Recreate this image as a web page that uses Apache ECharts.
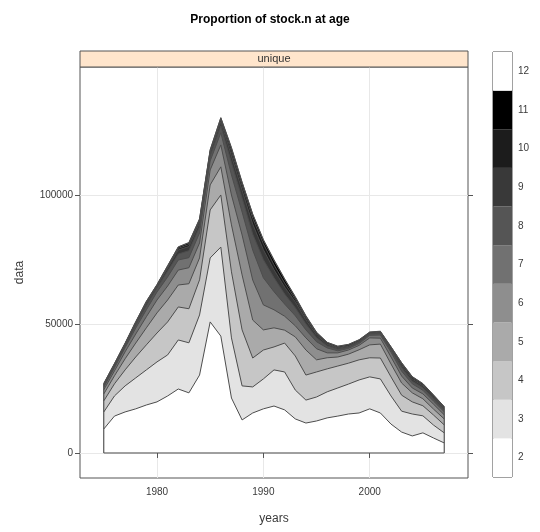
<!DOCTYPE html>
<html>
<head>
<meta charset="utf-8">
<script src="https://cdn.jsdelivr.net/npm/echarts@6/dist/echarts.min.js"></script>
<style>
  html, body { margin: 0; padding: 0; background: #ffffff; }
  #chart { width: 540px; height: 532px; }
</style>
</head>
<body>
<div id="chart"></div>
<script>
// Stock numbers by age, stacked over the years
const years = [1975,1976,1977,1978,1979,1980,1981,1982,1983,1984,1985,1986,1987,1988,1989,1990,1991,
               1992,1993,1994,1995,1996,1997,1998,1999,2000,2001,2002,2003,2004,2005,2006,2007];

const ages = ['2','3','4','5','6','7','8','9','10','11','12'];

const age2  = [9300,14300,15900,17100,18600,19800,22100,24800,23300,30200,50800,45300,21300,12800,15500,17100,18200,16700,13200,11600,12400,13600,14300,15100,15500,17100,15500,11200,8100,6600,7800,5800,3900];
const age3  = [6600,7800,10100,12000,13600,15500,15900,19000,19400,23300,24800,34500,23300,13200,10100,11600,14000,14700,11200,8900,9300,10100,10900,11600,12800,12400,13200,10900,8100,8500,6600,5000,3900];
const age4  = [4300,4700,6200,8100,9700,11200,12800,12800,13200,13600,18600,20200,25600,21700,11200,11200,8900,11200,13200,9700,9700,8900,8500,8100,7800,7400,8100,7400,6200,4700,3900,3900,3100];
const age5  = [2700,3100,4300,5400,6600,7800,8500,8500,9700,8500,9700,10900,18200,21300,14700,7800,7400,5000,7400,9700,4700,4300,3500,3500,3900,5000,5400,5000,4700,3500,2700,2300,2300];
const age6  = [1600,1900,2700,3500,4300,5000,5400,5800,6200,5800,5800,8500,11600,15500,15500,9700,7000,5400,4300,4700,4300,1900,1600,1600,1700,2700,2300,2700,2700,1900,1900,1900,1600];
const age7  = [1000,1200,1600,2300,2700,3100,3500,3900,3900,3900,3500,4700,7800,8900,11600,10500,7000,4700,3900,3100,2700,1900,800,600,700,1000,1200,1900,1900,1600,1400,1200,1200];
const age8  = [600,600,800,1200,1600,1600,2300,2300,2700,2300,1900,2700,4700,5400,6200,7000,5400,3900,3100,2300,1600,800,600,400,400,500,600,800,1400,1000,1000,900,800];
const age9  = [300,400,400,600,800,600,1200,1600,1600,1600,1200,1600,2700,3100,3900,3900,3100,2700,2300,1600,1000,600,400,400,300,200,300,500,800,800,700,600,500];
const age10 = [200,300,200,300,400,300,400,600,800,800,600,800,1600,1700,2300,2300,1900,1600,1000,800,600,300,300,300,300,200,200,300,600,500,400,400,300];
const age11 = [300,300,300,300,400,300,400,500,600,600,500,600,1300,1200,1400,1400,1700,1400,800,600,400,400,400,400,400,300,300,400,400,400,400,400,300];
const age12 = [100,100,100,100,100,100,100,100,200,200,100,200,300,200,200,200,300,200,200,200,100,100,100,100,100,100,100,100,100,100,100,100,100];

const yTicks = [0, 50000, 100000];
const xTicks = [1980, 1990, 2000];

const byAge = [age2, age3, age4, age5, age6, age7, age8, age9, age10, age11, age12];

// grey ramp, recycled after ten levels
const palette = ['#ffffff','#e3e3e3','#c6c6c6','#aaaaaa','#8e8e8e','#717171',
                 '#555555','#393939','#1c1c1c','#000000','#ffffff'];

const FONT = 'Liberation Sans, Arial, sans-serif';
const XMIN = 1972.76, XMAX = 2009.24;
const YMIN = -9700, YMAX = 149600;
const EDGE = '#4d4d4d';

// running totals: upper edge of each age band
const cumulative = [];
byAge.forEach((vals, k) => {
  cumulative.push(vals.map((v, i) => v + (k > 0 ? cumulative[k - 1][i] : 0)));
});

// each band is filled down to zero; the younger bands are painted over the older ones
const areaSeries = [];
for (let k = byAge.length - 1; k >= 0; k--) {
  areaSeries.push({
    name: ages[k],
    type: 'line',
    xAxisIndex: 0,
    yAxisIndex: 0,
    symbol: 'none',
    smooth: false,
    data: years.map((y, i) => [y, cumulative[k][i]]),
    lineStyle: { color: EDGE, width: 1 },
    areaStyle: { color: palette[k], opacity: 1, origin: 0 },
    emphasis: { disabled: true },
    silent: true,
    z: 3
  });
}

// outline of the whole stack: vertical ends and the zero base
const totals = cumulative[cumulative.length - 1];
const last = years.length - 1;
const frameSeries = {
  type: 'line',
  xAxisIndex: 0,
  yAxisIndex: 0,
  symbol: 'none',
  data: [[years[0], totals[0]], [years[0], 0], [years[last], 0], [years[last], totals[last]]],
  lineStyle: { color: EDGE, width: 1 },
  silent: true,
  z: 4
};

// colour key
const keySeries = {
  type: 'bar',
  xAxisIndex: 2,
  yAxisIndex: 2,
  barCategoryGap: '0%',
  data: ages.map((a, k) => ({ value: 1, itemStyle: { color: palette[k] } })),
  silent: true
};

const axisText = { color: '#3a3a3a', fontSize: 10, fontFamily: FONT };
const tickStyle = { show: true, inside: false, length: 5, lineStyle: { color: '#555555', width: 1 } };
const plain = v => String(v);

const chart = echarts.init(document.getElementById('chart'), null, { renderer: 'canvas' });
chart.setOption({
  animation: false,
  backgroundColor: '#ffffff',
  title: {
    text: 'Proportion of stock.n at age',
    left: 'center',
    top: 9,
    textStyle: { fontFamily: FONT, fontSize: 12, fontWeight: 'bold', color: '#000000' }
  },
  grid: [
    { left: 80, top: 67, width: 388, height: 411, show: true, borderColor: '#555555', borderWidth: 1, backgroundColor: 'transparent' },
    { left: 493, top: 52, width: 19, height: 425, show: true, borderColor: '#444444', borderWidth: 1, backgroundColor: 'transparent' }
  ],
  xAxis: [
    {
      type: 'value', gridIndex: 0, position: 'bottom', min: XMIN, max: XMAX,
      name: 'years', nameLocation: 'middle', nameGap: 35,
      nameTextStyle: { color: '#3a3a3a', fontSize: 12, fontFamily: FONT },
      axisLine: { show: false },
      axisTick: Object.assign({ customValues: xTicks }, tickStyle),
      axisLabel: Object.assign({ customValues: xTicks, margin: 9, formatter: plain }, axisText),
      splitLine: { show: true, lineStyle: { color: '#e8e8e8', width: 1 } }
    },
    {
      type: 'value', gridIndex: 0, position: 'top', offset: 16, min: XMIN, max: XMAX,
      axisLine: { show: false },
      axisTick: Object.assign({ customValues: xTicks }, tickStyle),
      axisLabel: { show: false, customValues: xTicks },
      splitLine: { show: false }
    },
    {
      type: 'value', gridIndex: 1, min: 0, max: 1, show: false
    }
  ],
  yAxis: [
    {
      type: 'value', gridIndex: 0, position: 'left', min: YMIN, max: YMAX,
      name: 'data', nameLocation: 'middle', nameGap: 54, nameRotate: 90,
      nameTextStyle: { color: '#3a3a3a', fontSize: 12, fontFamily: FONT },
      axisLine: { show: false },
      axisTick: Object.assign({ customValues: yTicks }, tickStyle),
      axisLabel: Object.assign({ customValues: yTicks, margin: 7, formatter: plain }, axisText),
      splitLine: { show: true, lineStyle: { color: '#e8e8e8', width: 1 } }
    },
    {
      type: 'value', gridIndex: 0, position: 'right', min: YMIN, max: YMAX,
      axisLine: { show: false },
      axisTick: Object.assign({ customValues: yTicks }, tickStyle),
      axisLabel: { show: false, customValues: yTicks },
      splitLine: { show: false }
    },
    {
      type: 'category', gridIndex: 1, position: 'right', data: ages,
      axisLine: { show: false },
      axisTick: { show: true, alignWithLabel: true, length: 4, lineStyle: { color: '#555555' } },
      axisLabel: Object.assign({ margin: 6 }, axisText),
      splitLine: { show: false }
    }
  ],
  graphic: [
    {
      type: 'rect', z: 10,
      shape: { x: 80, y: 51, width: 388, height: 16 },
      style: { fill: '#ffe5cc', stroke: '#555555', lineWidth: 1 }
    },
    {
      type: 'text', z: 11, x: 274, y: 59,
      style: { text: 'unique', fill: '#333333', font: '11px ' + FONT, align: 'center', verticalAlign: 'middle' }
    }
  ],
  series: areaSeries.concat([frameSeries, keySeries])
});
</script>
</body>
</html>
